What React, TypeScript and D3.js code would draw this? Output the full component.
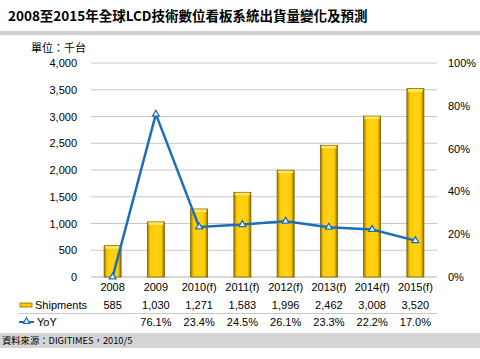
import React from "react";
import * as d3 from "d3";

const categories = ["2008", "2009", "2010(f)", "2011(f)", "2012(f)", "2013(f)", "2014(f)", "2015(f)"];
const shipments = [585, 1030, 1271, 1583, 1996, 2462, 3008, 3520];
const yoy = [0, 76.1, 23.4, 24.5, 26.1, 23.3, 22.2, 17.0];
const yoyLabels = ["", "76.1%", "23.4%", "24.5%", "26.1%", "23.3%", "22.2%", "17.0%"];
const leftTicks = [0, 500, 1000, 1500, 2000, 2500, 3000, 3500, 4000];
const rightTicks = [0, 20, 40, 60, 80, 100];

const W = 480, H = 359;
const FONT = "'Liberation Sans', Arial, sans-serif";
const CJK = "'Noto Sans CJK TC', 'Liberation Sans', sans-serif";

export default function App() {
  const x = d3.scaleBand<string>().domain(categories).range([91, 437]).padding(0);
  const yL = d3.scaleLinear().domain([0, 4000]).range([277, 63]);
  const yR = d3.scaleLinear().domain([0, 100]).range([277, 63]);
  const fmt = d3.format(",");
  const barW = 17;
  const cx = (c: string) => (x(c) as number) + x.bandwidth() / 2;
  const line = d3
    .line<number>()
    .x((_, i) => cx(categories[i]))
    .y((d) => yR(d));
  const tri = d3.symbol().type(d3.symbolTriangle).size(20);

  return (
    <svg width={W} height={H} style={{ position: "absolute", left: 0, top: 0, background: "#fff" }}>
      <defs>
        <linearGradient id="barG" x1="0" x2="1" y1="0" y2="0">
          <stop offset="0" stopColor="#9c7a00" />
          <stop offset="0.18" stopColor="#ffcc00" />
          <stop offset="0.5" stopColor="#ffd21a" />
          <stop offset="0.82" stopColor="#ffcc00" />
          <stop offset="1" stopColor="#8c6d00" />
        </linearGradient>
      </defs>
      <rect x={0} y={0} width={W} height={H} fill="#fff" />
      <text x={8} y={21} fontFamily={CJK} fontSize={13.5} fontWeight="bold" fill="#000">
        2008至2015年全球LCD技術數位看板系統出貨量變化及預測
      </text>
      <rect x={0} y={31} width={W} height={4} fill="#d0d0d0" />
      <text x={31} y={52} fontFamily={CJK} fontSize={11} fill="#000">單位：千台</text>

      {leftTicks.map((t) => (
        <g key={"l" + t}>
          <line x1={91} x2={437} y1={yL(t)} y2={yL(t)} stroke={t === 0 ? "#b0b0b0" : "#c8c8c8"} strokeWidth={1} />
          <text x={77} y={yL(t) + 4} textAnchor="end" fontFamily={FONT} fontSize={11} fill="#000">
            {fmt(t)}
          </text>
        </g>
      ))}
      {rightTicks.map((t) => (
        <text key={"r" + t} x={448} y={yR(t) + 4} fontFamily={FONT} fontSize={11} fill="#000">
          {t + "%"}
        </text>
      ))}

      {shipments.map((v, i) => {
        const c = categories[i];
        const top = yL(v);
        return (
          <g key={"b" + i}>
            <rect x={cx(c) - barW / 2} y={top} width={barW} height={yL(0) - top} fill="url(#barG)" stroke="#7a5e00" strokeWidth={0.8} />
            <rect x={cx(c) - barW / 2 + 1} y={top + 0.5} width={barW - 2} height={2.5} fill="#ffe766" />
          </g>
        );
      })}

      <path d={line(yoy) || ""} fill="none" stroke="#1a6fb8" strokeWidth={2.5} strokeLinejoin="round" />
      {yoy.map((v, i) => (
        <path key={"m" + i} d={tri() || ""} transform={`translate(${cx(categories[i])},${yR(v)})`} fill="#fff" stroke="#1a6fb8" strokeWidth={1.3} />
      ))}

      {categories.map((c) => (
        <text key={"c" + c} x={cx(c)} y={291} textAnchor="middle" fontFamily={FONT} fontSize={11} fill="#000">
          {c}
        </text>
      ))}
      <rect x={20} y={303} width={12} height={4} fill="#ffcc00" stroke="#8c6d00" strokeWidth={0.8} />
      <text x={35} y={309} fontFamily={FONT} fontSize={11} fill="#000">Shipments</text>
      {shipments.map((v, i) => (
        <text key={"s" + i} x={cx(categories[i])} y={309} textAnchor="middle" fontFamily={FONT} fontSize={11} fill="#000">
          {fmt(v)}
        </text>
      ))}
      <line x1={18} x2={437} y1={313.5} y2={313.5} stroke="#c8c8c8" strokeWidth={1} />
      <line x1={19} x2={34} y1={322} y2={322} stroke="#1a6fb8" strokeWidth={2} />
      <path d={d3.symbol().type(d3.symbolTriangle).size(18)() || ""} transform="translate(26.5,321.5)" fill="#fff" stroke="#1a6fb8" strokeWidth={1.2} />
      <text x={37} y={326} fontFamily={FONT} fontSize={11} fill="#000">YoY</text>
      {yoyLabels.map((v, i) => (
        <text key={"y" + i} x={cx(categories[i])} y={326} textAnchor="middle" fontFamily={FONT} fontSize={11} fill="#000">
          {v}
        </text>
      ))}

      <rect x={0} y={333} width={W} height={15} fill="#d4d4d4" />
      <text x={2} y={344} fontFamily={CJK} fontSize={9.3} fill="#000">資料來源：DIGITIMES，2010/5</text>
    </svg>
  );
}
